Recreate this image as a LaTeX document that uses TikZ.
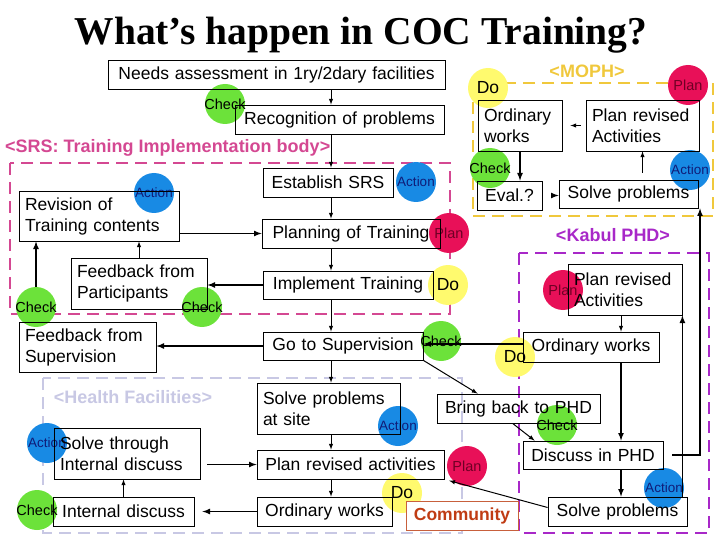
\documentclass[tikz,border=0pt]{standalone}
\usepackage{fontspec}
\setmainfont{Liberation Sans}
\newfontfamily\titlefont{Liberation Serif}
\usepackage{tikz}
\usetikzlibrary{calc}
\usetikzlibrary{shapes}

\definecolor{chkgreen}{RGB}{108,226,58}
\definecolor{actblue}{RGB}{24,138,228}
\definecolor{actnavy}{RGB}{16,28,120}
\definecolor{planred}{RGB}{232,16,88}
\definecolor{planmaroon}{RGB}{110,0,36}
\definecolor{doyellow}{RGB}{255,250,110}
\definecolor{srspink}{RGB}{212,72,146}
\definecolor{mophgold}{RGB}{240,200,60}
\definecolor{phdpurple}{RGB}{168,40,200}
\definecolor{hflavender}{RGB}{200,200,228}
\definecolor{commtext}{RGB}{192,60,20}
\definecolor{commborder}{RGB}{200,96,60}

\tikzset{
  cellbox/.style={draw, line width=0.8pt, inner xsep=6pt, inner ysep=2pt, align=center, font=\fontsize{17.5}{21}\selectfont},
  community/.style={draw=commborder, fill=white, text=commtext, font=\fontsize{17.5}{21}\selectfont\bfseries},
  dot/.style={circle, draw=none, inner sep=-8pt, minimum size=40pt},
  checkdot/.style={dot, fill=chkgreen, text=black, font=\fontsize{14.5}{15}\selectfont},
  actiondot/.style={dot, fill=actblue, text=actnavy, font=\fontsize{13.5}{14}\selectfont},
  plandot/.style={dot, fill=planred, text=planmaroon, font=\fontsize{14.5}{15}\selectfont},
  dodot/.style={dot, fill=doyellow, text=black, font=\fontsize{17.5}{18}\selectfont},
  zone/.style={dash pattern=on 12pt off 7pt, line width=2pt},
  zonelabel/.style={font=\fontsize{18}{20}\selectfont\bfseries, inner sep=0pt},
  arr/.style={-latex, line width=1pt},
  thickarr/.style={-latex, line width=1.6pt}
}

% box by its left, top, right, bottom edge
\newcommand{\cell}[7][]{\node[cellbox, text width={#5pt-#3pt-12pt}, minimum height={#6pt-#4pt}, #1] (#2) at ({(#3+#5)/2},{(#4+#6)/2}) {#7};}
% coloured PDCA dot
\newcommand{\pdca}[5]{\node[#4] (#1) at (#2,#3) {#5};}

\begin{document}
\begin{tikzpicture}[x=1pt,y=-1pt]
        \useasboundingbox (0,0) rectangle (720,540);

        \node[font=\titlefont\fontsize{39.5}{42}\selectfont\bfseries, anchor=base] (title) at (361,45) {What’s happen in COC Training?};

        % zones
        \draw[zone, draw=srspink] (10,163) rectangle (450,314);
        \draw[zone, draw=mophgold] (473,83) rectangle (713,216);
        \draw[zone, draw=phdpurple] (519,253) rectangle (709,533);
        \draw[zone, draw=hflavender] (43,378) rectangle (462,533);
        \node[zonelabel, text=srspink, anchor=west] (srslabel) at (5,148) {<SRS: Training Implementation body>};
        \node[zonelabel, text=mophgold] (mophlabel) at (587,71) {<MOPH>};
        \node[zonelabel, text=phdpurple] (phdlabel) at (613,235) {<Kabul PHD>};
        \node[zonelabel, text=hflavender] (hflabel) at (133,397) {<Health Facilities>};

        % dots
        \pdca{chkrecog}{225}{104}{checkdot}{Check}
        \pdca{actsrs}{416}{182}{actiondot}{Action}
        \pdca{actrevis}{154}{193}{actiondot}{Action}
        \pdca{planplantr}{449}{233}{plandot}{Plan}
        \pdca{doimplt}{448}{285}{dodot}{Do}
        \pdca{chkgosup}{441}{341}{checkdot}{Check}
        \pdca{chkfbpart}{202}{307}{checkdot}{Check}
        \pdca{chkfbsup}{36}{307}{checkdot}{Check}
        \pdca{actsite}{398}{426}{actiondot}{Action}
        \pdca{actsolvein}{47}{443}{actiondot}{Action}
        \pdca{chkintdisc}{37}{510}{checkdot}{Check}
        \pdca{planrevhf}{467}{466}{plandot}{Plan}
        \pdca{doordhf}{402}{493}{dodot}{Do}
        \pdca{chkbring}{557}{425}{checkdot}{Check}
        \pdca{actphd}{664}{488}{actiondot}{Action}
        \pdca{doordphd}{515}{357}{dodot}{Do}
        \pdca{planphdc}{563}{290}{plandot}{Plan}
        \pdca{doordmoph}{488}{88}{dodot}{Do}
        \pdca{planmophc}{688}{85}{plandot}{Plan}
        \pdca{chkeval}{490}{168}{checkdot}{Check}
        \pdca{actmoph}{690}{170}{actiondot}{Action}

        % boxes
        \cell{needs}{108}{60}{445}{89}{Needs assessment in 1ry/2dary facilities}
        \cell{recog}{235}{105}{444}{134}{Recognition of problems}
        \cell[align=left]{revis}{19}{191}{179}{241}{Revision of\\Training contents}
        \cell{establ}{263}{168}{393}{197}{Establish SRS}
        \cell{plantr}{262}{219}{440}{248}{Planning of Training}
        \cell{implt}{263}{271}{433}{299}{Implement Training}
        \cell{gosup}{263}{332}{423}{360}{Go to Supervision}
        \cell[align=left]{fbpart}{71}{258}{207}{309}{Feedback from\\Participants}
        \cell[align=left]{fbsup}{19}{322}{156}{372}{Feedback from\\Supervision}
        \cell[align=left]{solvein}{54}{428}{200}{479}{Solve through\\Internal discuss}
        \cell{intdisc}{53}{497}{194}{526}{Internal discuss}
        \cell[align=left]{solvesite}{257}{383}{400}{434}{Solve problems\\at site}
        \cell{planrev}{257}{450}{444}{479}{Plan revised activities}
        \cell{ordhf}{257}{497}{392}{526}{Ordinary works}
        \cell[community]{commun}{406}{501}{518}{530}{Community}
        \cell{bringback}{437}{394}{600}{423}{Bring back to PHD}
        \cell{discuss}{523}{441}{663}{469}{Discuss in PHD}
        \cell{solvephd}{548}{497}{687}{526}{Solve problems}
        \cell{ordphd}{523}{332}{659}{362}{Ordinary works}
        \cell[align=left]{planphd}{568}{264}{682}{315}{Plan revised\\Activities}
        \cell[align=left]{ordmoph}{478}{100}{562}{151}{Ordinary\\works}
        \cell[align=left]{planmoph}{586}{100}{699}{151}{Plan revised\\Activities}
        \cell{eval}{477}{181}{542}{210}{Eval.?}
        \cell{solvemoph}{559}{180}{698}{208}{Solve problems}

        % SRS and health facility chain
        \coordinate (spine) at (331,0);
        \draw[arr] (needs.south -| spine) -- (recog.north -| spine);
        \draw[arr] (recog.south -| spine) -- (establ.north -| spine);
        \draw[arr] (establ.south -| spine) -- (plantr.north -| spine);
        \draw[arr] (plantr.south -| spine) -- (implt.north -| spine);
        \draw[arr] (implt.south -| spine) -- (gosup.north -| spine);
        \draw[arr] (gosup.south -| spine) -- (solvesite.north -| spine);
        \draw[arr] (solvesite.south -| spine) -- (planrev.north -| spine);
        \draw[arr] (planrev.south -| spine) -- (ordhf.north -| spine);
        \draw[thickarr] (revis.east |- plantr.west) -- (plantr.west);
        \draw[thickarr] (implt.west) -- (implt.west -| fbpart.east);
        \draw[arr] (fbpart.north) -- (fbpart.north |- revis.south);
        \draw[thickarr] (chkfbsup.north) -- (chkfbsup.north |- revis.south);
        \draw[thickarr] (gosup.west) -- (gosup.west -| fbsup.east);
        \draw[arr] (intdisc.north) -- (intdisc.north |- solvein.south);
        \draw[thickarr, shorten <=7pt] (solvein.east |- planrev.west) -- (planrev.west);
        \draw[thickarr, shorten >=8pt] (ordhf.west) -- (ordhf.west -| intdisc.east);

        % PHD
        \coordinate (phdspine) at (621,0);
        \coordinate (rail) at (700,0);
        \draw[arr] (gosup.south east) -- ([xshift=41pt]bringback.north west);
        \draw[arr] ([xshift=76pt]bringback.south west) -- ([xshift=12pt]discuss.north west);
        \draw[thickarr] ([yshift=3pt]ordphd.west) -- ([yshift=3pt]ordphd.west -| gosup.east);
        \draw[arr] (planphd.south -| phdspine) -- (ordphd.north -| phdspine);
        \draw[thickarr] (ordphd.south -| phdspine) -- (discuss.north -| phdspine);
        \draw[thickarr] (discuss.south -| phdspine) -- (solvephd.north -| phdspine);
        \draw[thickarr] (solvephd.north -| planphd.south east) -- (planphd.south east);
        \draw[thickarr, shorten <=9pt] (discuss.east) -- (discuss.east -| rail) -- (rail |- solvemoph.south);
        \draw[arr, shorten >=5pt] ([yshift=4pt]solvephd.west) -- (planrev.south east);

        % MOPH
        \draw[thickarr] (ordmoph.south) -- (ordmoph.south |- eval.north);
        \draw[thickarr, shorten <=11pt] (eval.east) -- (eval.east -| solvemoph.west);
        \draw[arr, shorten <=7pt] (planmoph.south |- solvemoph.north) -- (planmoph.south);
        \draw[arr, shorten <=5pt, shorten >=8pt] (planmoph.west) -- (planmoph.west -| ordmoph.east);
    \end{tikzpicture}
\end{document}
